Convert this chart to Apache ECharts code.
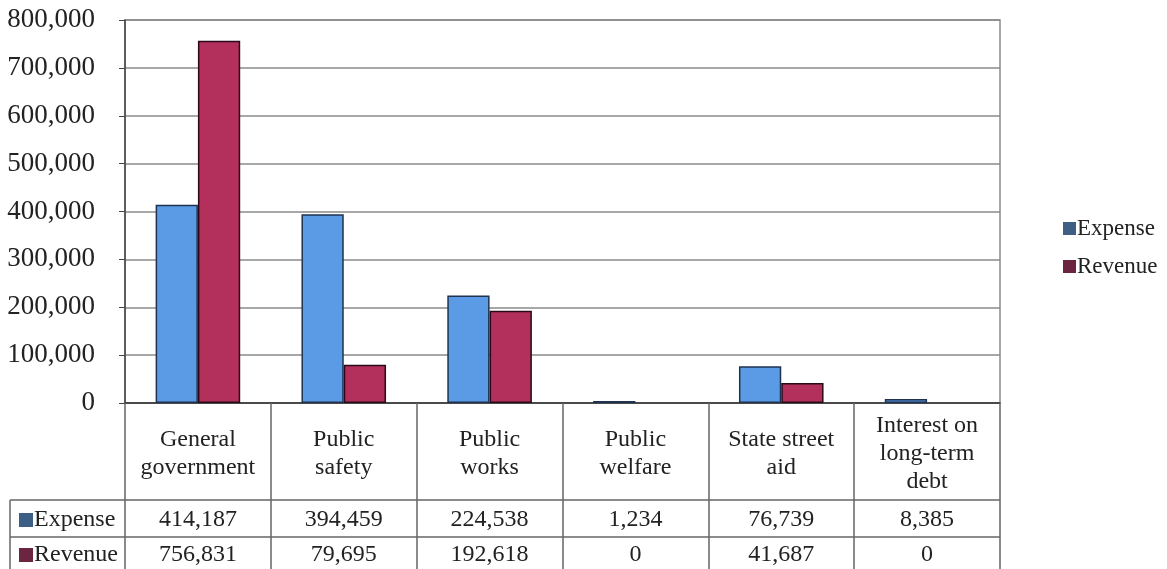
<!DOCTYPE html>
<html>
<head>
<meta charset="utf-8">
<script src="https://cdn.jsdelivr.net/npm/echarts@6/dist/echarts.min.js"></script>
<style>
html,body{margin:0;padding:0;background:#fff;}
#c{width:1167px;height:569px;}
</style>
</head>
<body>
<div id="c"></div>
<script>
var categories = ['General\ngovernment', 'Public\nsafety', 'Public\nworks', 'Public\nwelfare', 'State street\naid', 'Interest on\nlong-term\ndebt'];
var expense = [414187, 394459, 224538, 1234, 76739, 8385];
var revenue = [756831, 79695, 192618, 0, 41687, 0];
var seriesNames = ['Expense', 'Revenue'];
var legendColors = ['#3d5f86', '#6b2540'];

var FONT = '"Liberation Serif", "Times New Roman", serif';
var fmt = function (v) { return Number(v).toLocaleString('en-US'); };

function barData(arr) {
  return arr.map(function (v) {
    return v === 0 ? {value: v, itemStyle: {borderWidth: 0}} : v;
  });
}

function oneLegend(idx, left, top, size, box) {
  return {
    orient: 'vertical', left: left, top: top, selectedMode: false,
    itemWidth: box, itemHeight: box, icon: 'rect', itemGap: 0,
    textStyle: {fontFamily: FONT, fontSize: size, color: '#222', padding: [0, 0, 0, -4]},
    data: [{name: seriesNames[idx], itemStyle: {color: legendColors[idx], borderWidth: 0}}]
  };
}

var chart = echarts.init(document.getElementById('c'), null, {renderer: 'canvas'});
var common = {
  type: 'category', data: categories, gridIndex: 0, position: 'bottom'
};
var option = {
  backgroundColor: '#fff',
  animation: false,
  grid: {left: 125, right: 167, top: 20, bottom: 166, show: true, borderColor: '#8a8a8a', borderWidth: 1.5, backgroundColor: 'transparent'},
  legend: [
    oneLegend(0, 1058, 212, 23, 13),
    oneLegend(1, 1058, 250, 23, 13),
    oneLegend(0, 14, 503, 24, 14),
    oneLegend(1, 14, 538, 24, 14)
  ],
  xAxis: [
    Object.assign({}, common, {
      axisLine: {show: true, lineStyle: {color: '#333', width: 1.5}},
      axisTick: {show: true, interval: 0, length: 166, lineStyle: {color: '#666', width: 1.5}},
      axisLabel: {interval: 0, margin: 51, verticalAlign: 'middle', fontFamily: FONT, fontSize: 24, lineHeight: 28, color: '#222', hideOverlap: false}
    }),
    Object.assign({}, common, {
      axisLine: {show: false}, axisTick: {show: false},
      axisLabel: {interval: 0, margin: 117, verticalAlign: 'middle', fontFamily: FONT, fontSize: 24, color: '#222', hideOverlap: false,
        formatter: function (v, i) { return fmt(expense[i]); }}
    }),
    Object.assign({}, common, {
      axisLine: {show: false}, axisTick: {show: false},
      axisLabel: {interval: 0, margin: 152, verticalAlign: 'middle', fontFamily: FONT, fontSize: 24, color: '#222', hideOverlap: false,
        formatter: function (v, i) { return fmt(revenue[i]); }}
    })
  ],
  yAxis: {
    type: 'value', min: 0, max: 800000, interval: 100000,
    axisLine: {show: true, lineStyle: {color: '#444', width: 1.5}},
    axisTick: {show: true, length: 6, lineStyle: {color: '#444'}},
    splitLine: {show: true, lineStyle: {color: '#8a8a8a', width: 1.5}},
    axisLabel: {margin: 30, fontFamily: FONT, fontSize: 27, color: '#222', formatter: function (v) { return fmt(v); }}
  },
  series: [
    {
      name: seriesNames[0], type: 'bar', xAxisIndex: 0, data: barData(expense),
      barGap: '0%', barCategoryGap: '42%', barMinHeight: 2,
      itemStyle: {color: '#5b9be6', borderColor: '#1f3350', borderWidth: 1.5}
    },
    {
      name: seriesNames[1], type: 'bar', xAxisIndex: 0, data: barData(revenue),
      barGap: '0%', barCategoryGap: '42%',
      itemStyle: {color: '#b3305d', borderColor: '#2a0a18', borderWidth: 1.5}
    }
  ],
  graphic: [
    {type: 'line', shape: {x1: 10, y1: 500, x2: 1000, y2: 500}, style: {stroke: '#666', lineWidth: 1.5}, z: 100},
    {type: 'line', shape: {x1: 10, y1: 537, x2: 1000, y2: 537}, style: {stroke: '#666', lineWidth: 1.5}, z: 100},
    {type: 'line', shape: {x1: 10, y1: 500, x2: 10, y2: 569}, style: {stroke: '#666', lineWidth: 1.5}, z: 100}
  ]
};
chart.setOption(option);
</script>
</body>
</html>
